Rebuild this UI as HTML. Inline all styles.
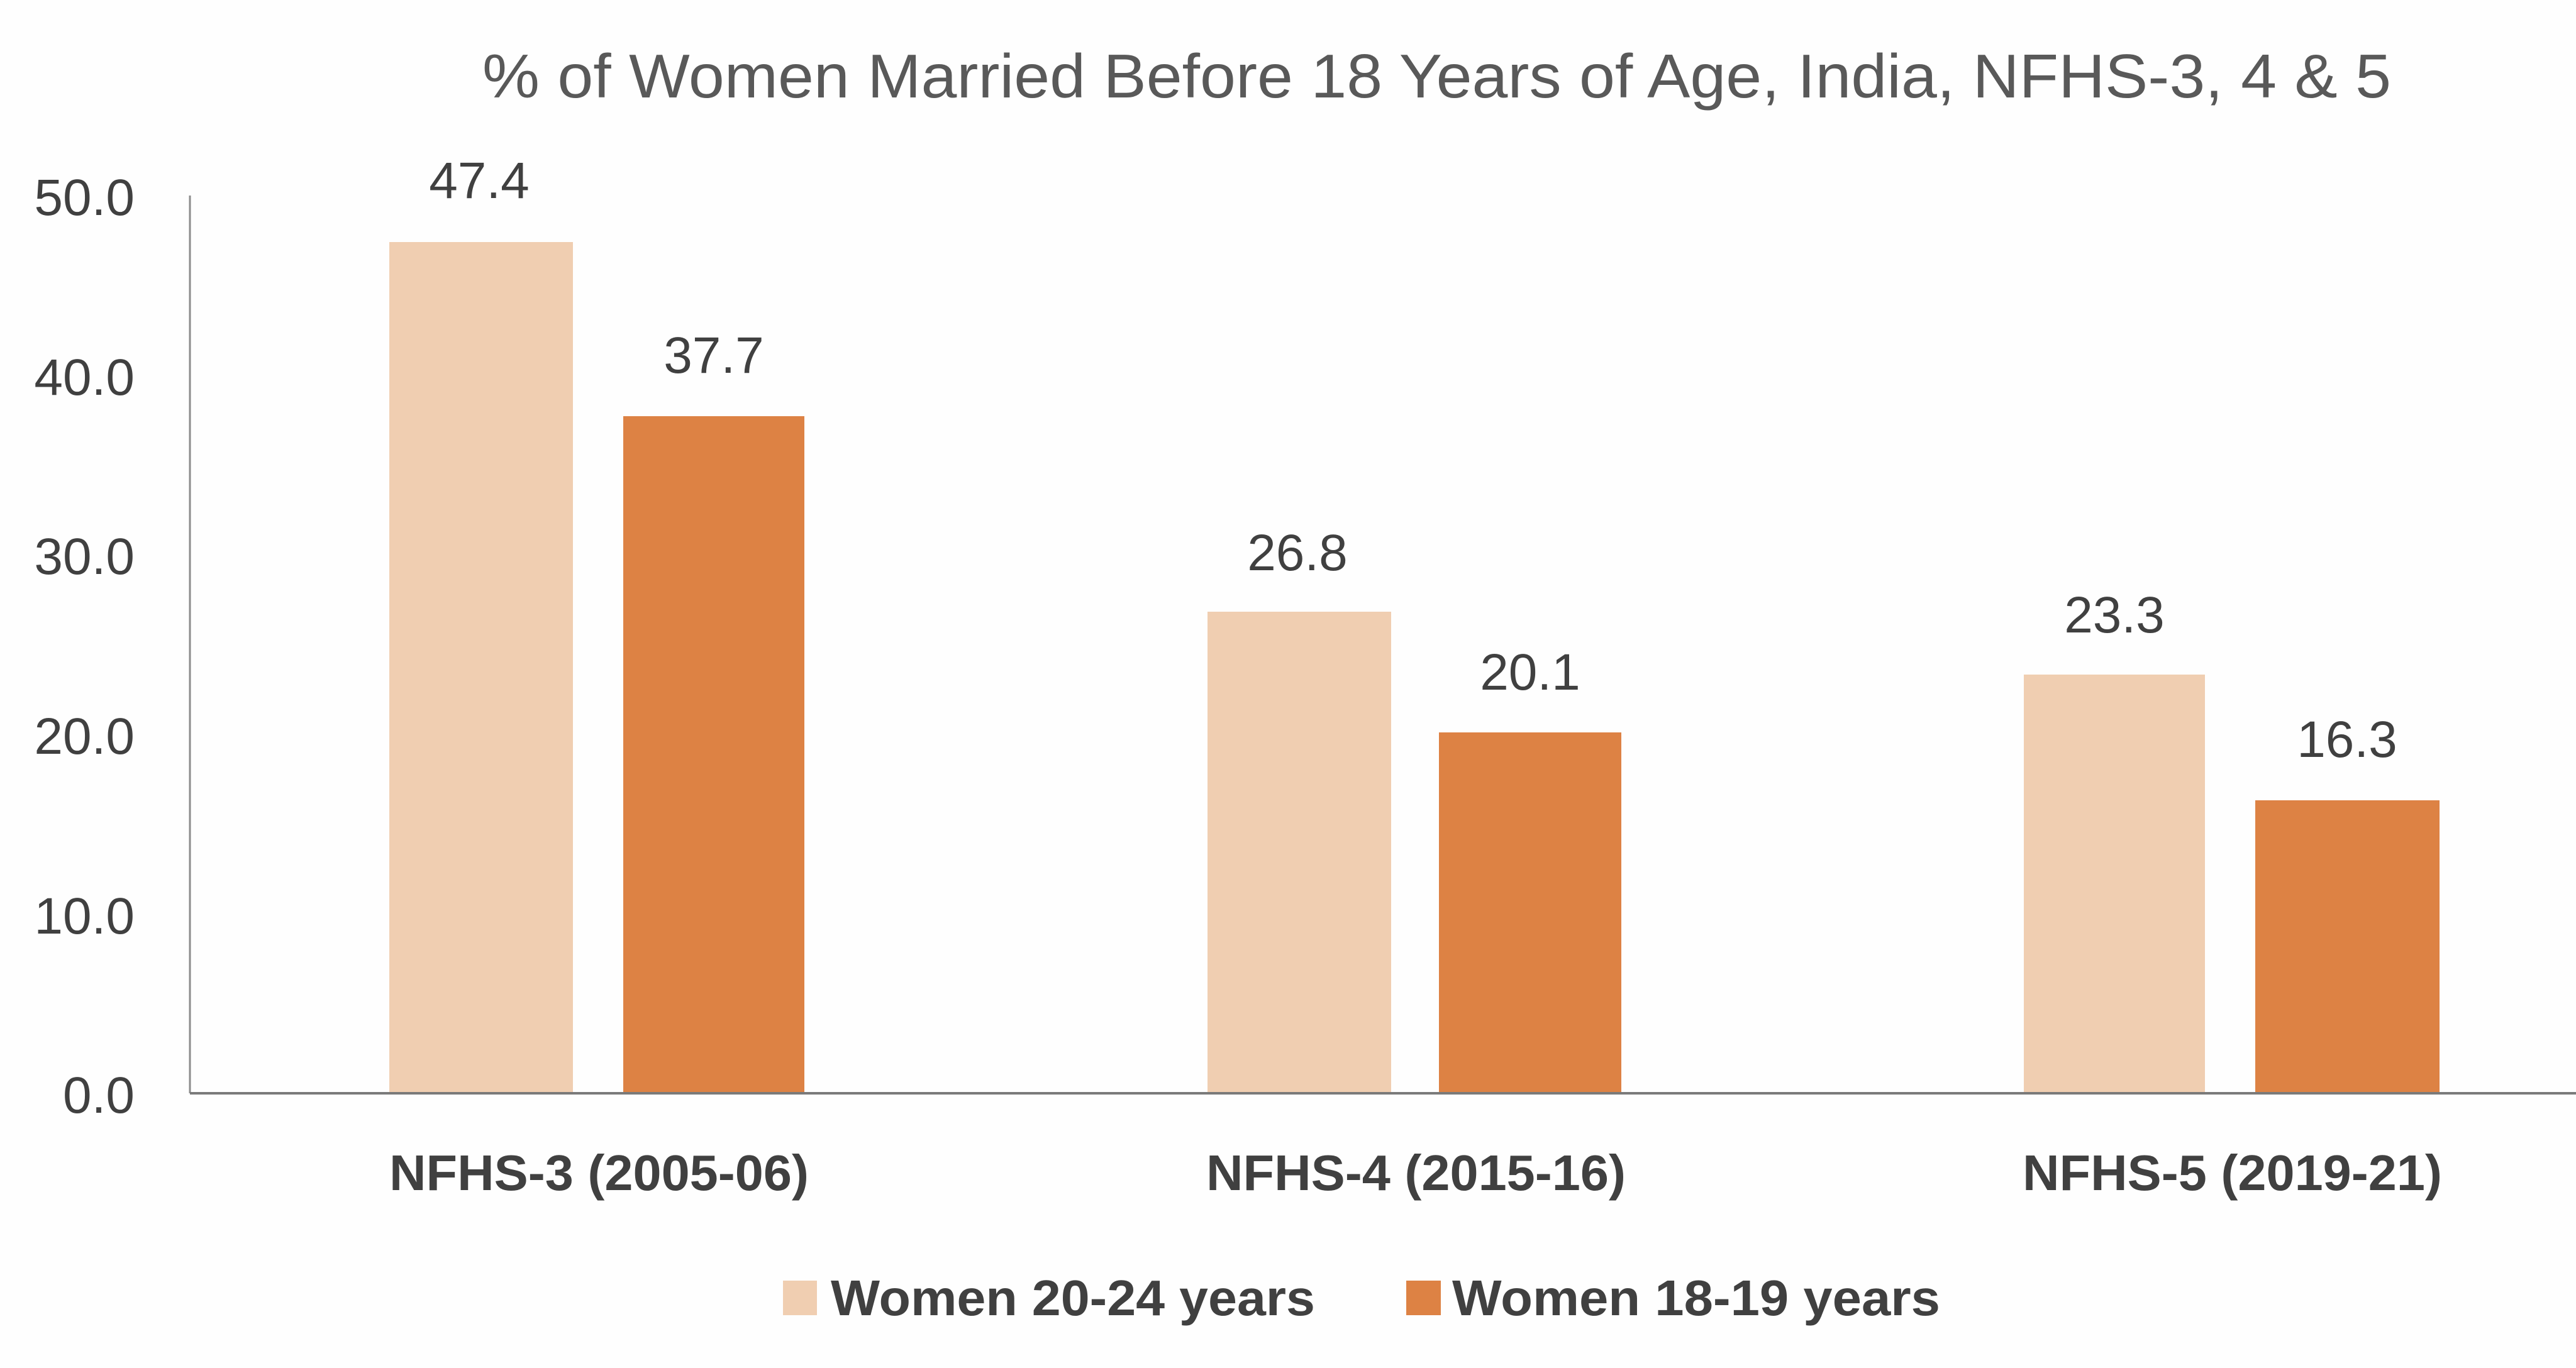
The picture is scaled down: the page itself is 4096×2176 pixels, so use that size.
<!DOCTYPE html>
<html><head><meta charset="utf-8"><style>
html,body{margin:0;padding:0;background:#fff;}
svg{display:block;}
</style></head><body>
<svg width="4096" height="2176" viewBox="0 0 4096 2176" xmlns="http://www.w3.org/2000/svg">
<rect width="4096" height="2176" fill="#fefefe"/>
<text x="767" y="155" font-family="Liberation Sans, sans-serif" font-size="98" fill="#595959" textLength="3035" lengthAdjust="spacingAndGlyphs">% of Women Married Before 18 Years of Age, India, NFHS-3, 4 &amp; 5</text>
<g font-family="Liberation Sans, sans-serif" font-size="82" fill="#404040" text-anchor="end">
<text x="214" y="342">50.0</text>
<text x="214" y="628">40.0</text>
<text x="214" y="913">30.0</text>
<text x="214" y="1199">20.0</text>
<text x="214" y="1485">10.0</text>
<text x="214" y="1770">0.0</text>
</g>
<line x1="302" y1="311" x2="302" y2="1739" stroke="#8c8c8c" stroke-width="3"/>
<g>
<rect x="619" y="385" width="292" height="1354" fill="#f0ceb1"/>
<rect x="991" y="662" width="288" height="1077" fill="#dd8244"/>
<rect x="1920" y="973" width="292" height="766" fill="#f0ceb1"/>
<rect x="2288" y="1165" width="290" height="574" fill="#dd8244"/>
<rect x="3218" y="1073" width="288" height="666" fill="#f0ceb1"/>
<rect x="3586" y="1273" width="293" height="466" fill="#dd8244"/>
</g>
<line x1="302" y1="1739" x2="4096" y2="1739" stroke="#7a7a7a" stroke-width="4"/>
<g font-family="Liberation Sans, sans-serif" font-size="82" fill="#404040" text-anchor="middle">
<text x="762" y="315">47.4</text>
<text x="1135" y="593">37.7</text>
<text x="2063" y="907">26.8</text>
<text x="2433" y="1097">20.1</text>
<text x="3362" y="1006">23.3</text>
<text x="3732" y="1204">16.3</text>
</g>
<g font-family="Liberation Sans, sans-serif" font-weight="bold" font-size="80" fill="#404040">
<text x="619" y="1893" textLength="667" lengthAdjust="spacingAndGlyphs">NFHS-3 (2005-06)</text>
<text x="1918" y="1893" textLength="667" lengthAdjust="spacingAndGlyphs">NFHS-4 (2015-16)</text>
<text x="3216" y="1893" textLength="667" lengthAdjust="spacingAndGlyphs">NFHS-5 (2019-21)</text>
</g>
<rect x="1245" y="2037" width="54" height="55" fill="#f0ceb1"/>
<rect x="2236" y="2037" width="55" height="55" fill="#dd8244"/>
<g font-family="Liberation Sans, sans-serif" font-weight="bold" font-size="80" fill="#404040">
<text x="1321" y="2092" textLength="770" lengthAdjust="spacingAndGlyphs">Women 20-24 years</text>
<text x="2309" y="2092" textLength="776" lengthAdjust="spacingAndGlyphs">Women 18-19 years</text>
</g>
</svg>
</body></html>
